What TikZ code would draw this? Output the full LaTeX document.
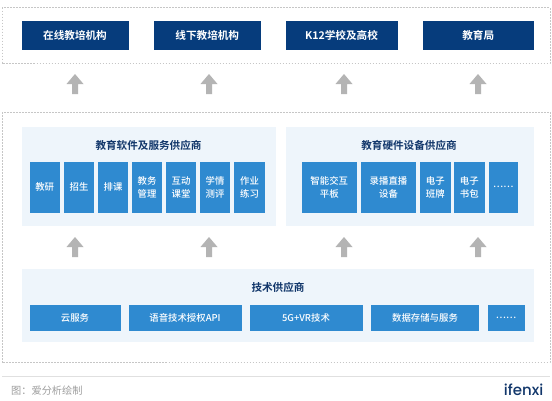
\documentclass[tikz,border=0pt]{standalone}
\usepackage{fontspec}
\setmainfont{Noto Sans CJK SC Medium}
\newfontfamily\boldcjk{Noto Sans CJK SC Bold}
\newfontfamily\regcjk{Noto Sans CJK SC}
\newfontfamily\logofont{Poppins Medium}
\definecolor{navy}{HTML}{063C7C}
\definecolor{midblue}{HTML}{2F8AD0}
\definecolor{panelblue}{HTML}{EEF5FB}
\definecolor{arrowgray}{HTML}{B4B4B4}
\definecolor{dashgray}{HTML}{C6C6C6}
\definecolor{titleblue}{HTML}{12376B}
\tikzset{
  x=1pt,y=1pt,
  outerframe/.style={draw=dashgray,line width=0.6pt,dash pattern=on 1.6pt off 1.4pt},
  panel/.style={fill=panelblue,draw=none},
  topbox/.style={fill=navy,text=white,inner sep=0pt,font=\boldcjk\fontsize{10.6}{12}\selectfont,align=center},
  subbox/.style={fill=midblue,text=white,inner sep=0pt,font=\fontsize{9.4}{12.5}\selectfont,align=center},
  paneltitle/.style={text=titleblue,inner sep=0pt,font=\boldcjk\fontsize{10.6}{12}\selectfont},
  uparrow/.style={fill=arrowgray,draw=none},
}
\newcommand{\rbox}[7]{\node[#1,minimum width=#4pt-#3pt,minimum height=#6pt-#5pt] (#2) at ({(#3+#4)/2},{-(#5+#6)/2}) {#7};}
% block arrow: centre x, tip y (pixels down)
\newcommand{\upblock}[2]{\fill[uparrow] (#1,-#2) -- ++(8.5,-10) -- ++(-5.5,0) -- ++(0,-10) -- ++(-6,0) -- ++(0,10) -- ++(-5.5,0) -- cycle;}
\begin{document}
\begin{tikzpicture}
\useasboundingbox (0,0) rectangle (552,-400);
\fill[white] (0,0) rectangle (552,-400);
% frames
\draw[outerframe] (2,-7.5) rectangle (550,-63);
\draw[outerframe] (2,-112) rectangle (550,-362.5);
% top row
\rbox{topbox}{a}{21.5}{128.5}{21}{49.5}{在线教培机构}
\rbox{topbox}{b}{153.5}{261}{21}{49.5}{线下教培机构}
\rbox{topbox}{c}{285.5}{397.5}{21}{49.5}{K12学校及高校}
\rbox{topbox}{d}{422.5}{534}{21}{49.5}{教育局}
% upper arrows
\upblock{75}{74}
\upblock{209}{74}
\upblock{344}{74}
\upblock{478}{74}
% panels
\rbox{panel}{p1}{21.5}{276}{127}{225.5}{}
\rbox{panel}{p2}{286}{534}{127}{225.5}{}
\rbox{panel}{p3}{21.5}{534}{269}{342}{}
\node[paneltitle] (t1) at (148.5,-145) {教育软件及服务供应商};
\node[paneltitle] (t2) at (409,-145) {教育硬件设备供应商};
\node[paneltitle] (t3) at (278,-287) {技术供应商};
% software
\rbox{subbox}{s1}{29.5}{60}{162}{212.5}{教研}
\rbox{subbox}{s2}{64}{94}{162}{212.5}{招生}
\rbox{subbox}{s3}{98}{128}{162}{212.5}{排课}
\rbox{subbox}{s4}{132}{162}{162}{212.5}{教务\\管理}
\rbox{subbox}{s5}{166}{196}{162}{212.5}{互动\\课堂}
\rbox{subbox}{s6}{200}{230}{162}{212.5}{学情\\测评}
\rbox{subbox}{s7}{234}{265}{162}{212.5}{作业\\练习}
% hardware
\rbox{subbox}{h1}{301.5}{357}{162}{212.5}{智能交互\\平板}
\rbox{subbox}{h2}{361}{416}{162}{212.5}{录播直播\\设备}
\rbox{subbox}{h3}{420}{450.5}{162}{212.5}{电子\\班牌}
\rbox{subbox}{h4}{454}{484.5}{162}{212.5}{电子\\书包}
\rbox{subbox}{h5}{488.5}{518}{162}{212.5}{……}
% lower arrows
\upblock{75}{237}
\upblock{209}{237}
\upblock{344}{237}
\upblock{478}{237}
% tech
\rbox{subbox}{k1}{29.5}{120.5}{305}{330.5}{云服务}
\rbox{subbox}{k2}{128.5}{241.5}{305}{330.5}{语音技术授权API}
\rbox{subbox}{k3}{249.5}{362.5}{305}{330.5}{5G+VR技术}
\rbox{subbox}{k4}{371}{479}{305}{330.5}{数据存储与服务}
\rbox{subbox}{k5}{487.5}{524.5}{305}{330.5}{……}
% footer
\draw[line width=0.7pt,draw=black!12] (2,-376.5) -- (550,-376.5);
\node[anchor=west,inner sep=0pt,text=black!38,font=\regcjk\fontsize{10.2}{12}\selectfont] (cap) at (11,-390.5) {图：爱分析绘制};
\node[anchor=east,inner sep=0pt,text=titleblue,font=\logofont\fontsize{15}{16}\selectfont] (logo) at (543.5,-390) {ifenxi};
\end{tikzpicture}
\end{document}
